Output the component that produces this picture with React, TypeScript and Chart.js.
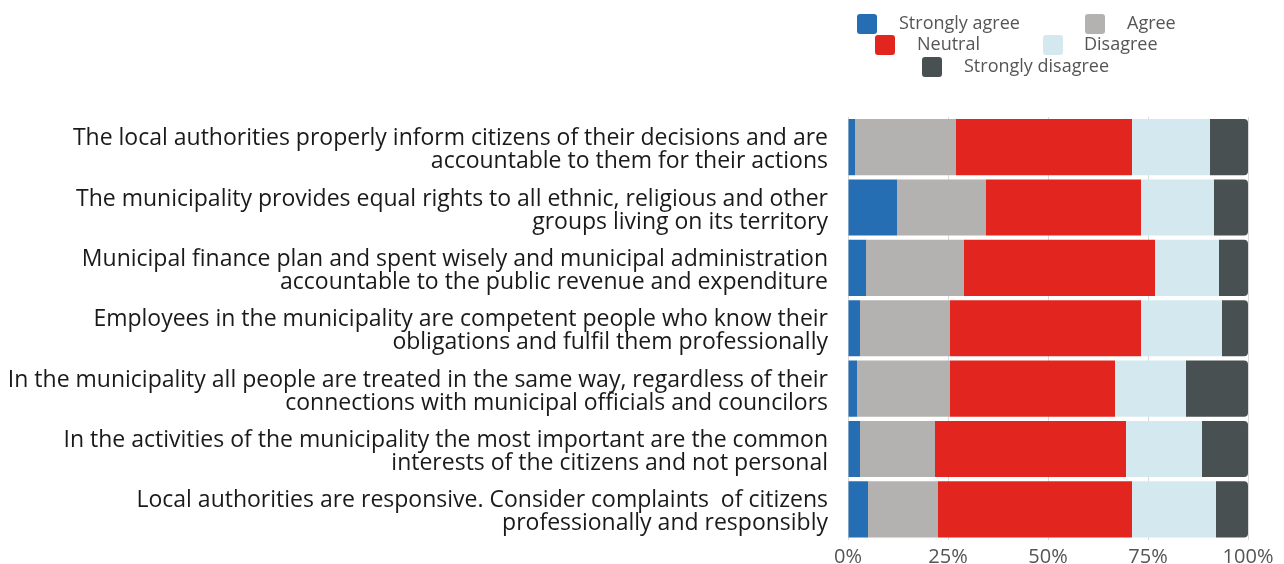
import React, { useEffect, useRef } from 'react';
import { Chart, registerables } from 'chart.js';

Chart.register(...registerables);

const categories: string[][] = [
  ['The local authorities properly inform citizens of their decisions and are', 'accountable to them for their actions'],
  ['The municipality provides equal rights to all ethnic, religious and other', 'groups living on its territory'],
  ['Municipal finance plan and spent wisely and municipal administration', 'accountable to the public revenue and expenditure'],
  ['Employees in the municipality are competent people who know their', 'obligations and fulfil them professionally'],
  ['In the municipality all people are treated in the same way, regardless of their', 'connections with municipal officials and councilors'],
  ['In the activities of the municipality the most important are the common', 'interests of the citizens and not personal'],
  ['Local authorities are responsive. Consider complaints  of citizens', 'professionally and responsibly'],
];

const seriesNames = ['Strongly agree', 'Agree', 'Neutral', 'Disagree', 'Strongly disagree'];
const seriesColors = ['#256eb4', '#b3b2b0', '#e2251f', '#d4e9ef', '#495052'];

const stronglyAgree = [1.75, 12.25, 4.5, 3, 2.25, 3, 5];
const agree = [25.25, 22.25, 24.5, 22.5, 23.25, 18.75, 17.5];
const neutral = [44, 38.75, 47.75, 47.75, 41.25, 47.75, 48.5];
const disagree = [19.5, 18.25, 16, 20.25, 17.75, 19, 21];
const stronglyDisagree = [9.5, 8.5, 7.25, 6.5, 15.5, 11.5, 8];

const xTickValues = [0, 25, 50, 75, 100];

const FONT = "'Open Sans', 'Noto Sans', sans-serif";

// legend item placement (box x, box y, text x) in page pixels
const legendLayout = [
  { bx: 857, by: 14, tx: 899 },
  { bx: 1085, by: 14, tx: 1127 },
  { bx: 875, by: 35, tx: 917 },
  { bx: 1043, by: 35, tx: 1084 },
  { bx: 922, by: 57, tx: 964 },
];

const legendPlugin = {
  id: 'customLegend',
  afterDraw(chart: any) {
    const ctx = chart.ctx;
    ctx.save();
    ctx.font = `18px ${FONT}`;
    ctx.textBaseline = 'middle';
    ctx.textAlign = 'left';
    chart.data.datasets.forEach((ds: any, i: number) => {
      const p = legendLayout[i];
      if (!p) return;
      ctx.fillStyle = ds.backgroundColor;
      ctx.beginPath();
      if (ctx.roundRect) ctx.roundRect(p.bx, p.by, 20, 20, 3);
      else ctx.rect(p.bx, p.by, 20, 20);
      ctx.fill();
      ctx.fillStyle = '#555555';
      ctx.fillText(ds.label, p.tx, p.by + 10);
    });
    ctx.restore();
  },
};

export default function App() {
  const ref = useRef<HTMLCanvasElement | null>(null);

  useEffect(() => {
    document.body.style.margin = '0';
    const seriesValues = [stronglyAgree, agree, neutral, disagree, stronglyDisagree];
    const chart = new Chart(ref.current as HTMLCanvasElement, {
      type: 'bar',
      data: {
        labels: categories,
        datasets: seriesNames.map((name, i) => ({
          label: name,
          data: seriesValues[i],
          backgroundColor: seriesColors[i],
          borderWidth: 0,
          categoryPercentage: 1,
          barPercentage: 0.93,
          borderRadius: i === seriesNames.length - 1 ? { topRight: 4, bottomRight: 4, topLeft: 0, bottomLeft: 0 } : 0,
        })),
      },
      options: {
        indexAxis: 'y',
        responsive: true,
        maintainAspectRatio: false,
        animation: false,
        layout: { padding: { top: 117, right: 36, left: 0, bottom: 0 } },
        plugins: {
          legend: { display: false },
          tooltip: { enabled: false },
        },
        scales: {
          x: {
            stacked: true,
            min: 0,
            max: 100,
            afterBuildTicks: (scale: any) => {
              scale.ticks = xTickValues.map((v) => ({ value: v }));
            },
            ticks: {
              callback: (v: any) => `${v}%`,
              color: '#555555',
              font: { family: FONT, size: 20 },
              padding: 6,
              maxRotation: 0,
            },
            grid: { color: '#d9d9d9', lineWidth: 1, drawTicks: false },
            border: { display: false },
            afterFit: (scale: any) => {
              scale.height = 24.5;
              scale.paddingTop = 0;
              scale.paddingBottom = 0;
            },
          },
          y: {
            stacked: true,
            grid: { display: false, drawTicks: false },
            border: { display: false },
            ticks: {
              color: '#1a1a1a',
              font: { family: FONT, size: 23, lineHeight: 1.0 },
              padding: 20,
              labelOffset: 3,
              autoSkip: false,
            },
            afterFit: (scale: any) => {
              scale.width = 848;
              scale.paddingTop = 0;
              scale.paddingBottom = 0;
            },
          },
        },
      } as any,
      plugins: [legendPlugin],
    });
    return () => chart.destroy();
  }, []);

  return (
    <div style={{ position: 'relative', width: '1284px', height: '564px' }}>
      <canvas ref={ref} />
    </div>
  );
}
